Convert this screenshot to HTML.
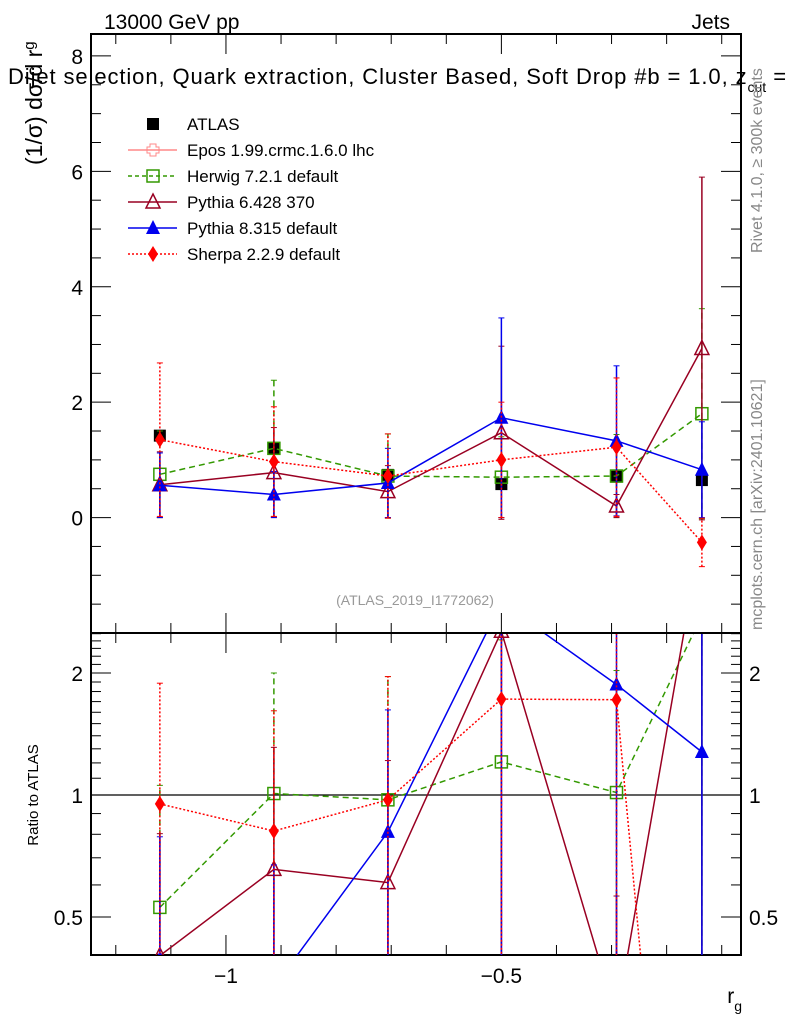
<!DOCTYPE html>
<html><head><meta charset="utf-8"><style>
html,body{margin:0;background:#fff;width:786px;height:1024px;overflow:hidden;}
svg{display:block;font-family:"Liberation Sans",sans-serif;}
</style></head><body>
<svg id="chart" width="786" height="1024" viewBox="0 0 786 1024">
<defs>
<clipPath id="clipMain"><rect x="91" y="34" width="650" height="599"/></clipPath>
<clipPath id="clipRatio"><rect x="91" y="634" width="650" height="321"/></clipPath>
</defs>
<g id="axes"></g>
<g id="marks"></g>
<text x="104" y="29" font-size="21">13000 GeV pp</text>
<text x="730" y="29" font-size="21" text-anchor="end">Jets</text>
<text x="8" y="84" font-size="22" letter-spacing="0.9">Dijet selection, Quark extraction, Cluster Based, Soft Drop #b = 1.0, z<tspan font-size="14" dy="8" letter-spacing="0">cut</tspan><tspan dy="-8"> =</tspan></text>
<text transform="translate(42,165) rotate(-90)" font-size="23">(1/σ) dσ/d r<tspan font-size="15" dy="-8">g</tspan></text>
<text transform="translate(38,795) rotate(-90)" font-size="15" text-anchor="middle">Ratio to ATLAS</text>
<text x="742" y="1003" font-size="21" text-anchor="end">r<tspan font-size="14" dy="8">g</tspan></text>
<text transform="translate(762,253) rotate(-90)" font-size="16" fill="#888">Rivet 4.1.0, ≥ 300k events</text>
<text transform="translate(762,630) rotate(-90)" font-size="16" fill="#888">mcplots.cern.ch [arXiv:2401.10621]</text>
<text x="415" y="605" font-size="14" fill="#999" text-anchor="middle">(ATLAS_2019_I1772062)</text>
<g id="legend"></g>
</svg>
<script>
const xCenters = [-1.12, -0.913, -0.706, -0.5, -0.291, -0.136];
const atlasVals = [1.42, 1.19, 0.74, 0.58, 0.71, 0.65];
const herwigVals = [0.75, 1.2, 0.72, 0.7, 0.72, 1.8];
const herwigErr = [0.75, 1.18, 0.73, 0.7, 0.72, 1.82];
const pythia6Vals = [0.57, 0.78, 0.45, 1.47, 0.2, 2.93];
const pythia6Err = [0.57, 0.78, 0.45, 1.5, 0.2, 2.97];
const pythia8Vals = [0.56, 0.4, 0.6, 1.73, 1.33, 0.83];
const pythia8Err = [0.56, 0.4, 0.6, 1.73, 1.3, 0.83];
const sherpaVals = [1.35, 0.97, 0.72, 1.0, 1.22, -0.43];
const sherpaErr = [1.33, 0.95, 0.73, 1.0, 1.2, 0.42];
const yTicks = [0, 2, 4, 6, 8];
const xTicks = [-1, -0.5];
const ratioTicks = [0.5, 1, 2];

const NS = "http://www.w3.org/2000/svg";
const X0 = 91, X1 = 741, MT = 34, MB = 633, RT = 633, RB = 955;
const xMin = -1.245, xMax = -0.065;
const sx = v => X0 + (v - xMin) / (xMax - xMin) * (X1 - X0);
const yMin = -2, yMax = 8.38;
const sy = v => MB - (v - yMin) / (yMax - yMin) * (MB - MT);
const rMin = Math.log(0.403), rMax = Math.log(2.51);
const sr = v => RB - (Math.log(Math.max(v, 0.01)) - rMin) / (rMax - rMin) * (RB - RT);

function el(tag, attrs, parent) {
  const e = document.createElementNS(NS, tag);
  for (const k in attrs) e.setAttribute(k, attrs[k]);
  parent.appendChild(e);
  return e;
}
const axes = document.getElementById('axes');
const marks = document.getElementById('marks');
const legend = document.getElementById('legend');

const f1 = el('rect', {x: X0, y: MT, width: X1 - X0, height: MB - MT, fill: 'none', stroke: '#000', 'stroke-width': 2}, axes);


const f2 = el('rect', {x: X0, y: RT, width: X1 - X0, height: RB - RT, fill: 'none', stroke: '#000', 'stroke-width': 2}, axes);



for (let v = -2; v <= 8.3; v += 0.5) {
  const major = Math.abs(v - Math.round(v / 2) * 2) < 1e-6;
  const L = major ? 20 : 10;
  el('line', {x1: X0, x2: X0 + L, y1: sy(v), y2: sy(v), stroke: '#000'}, axes);
  el('line', {x1: X1, x2: X1 - L, y1: sy(v), y2: sy(v), stroke: '#000'}, axes);
}
yTicks.forEach(v => {
  const t = el('text', {x: X0 - 8, y: sy(v) + 8, 'font-size': 21, 'text-anchor': 'end'}, axes);
  t.textContent = v;
  
  
});

for (let i = -12; i <= -1; i++) {
  const v = i / 10;
  const major = (i === -10 || i === -5);
  const L = major ? 20 : 10;
  [[MT, 1], [MB, -1], [RT, 1], [RB, -1]].forEach(([y, d]) => {
    el('line', {x1: sx(v), x2: sx(v), y1: y, y2: y + d * L, stroke: '#000'}, axes);
  });
}
xTicks.forEach(v => {
  const t = el('text', {x: sx(v), y: RB + 28, 'font-size': 21, 'text-anchor': 'middle'}, axes);
  t.textContent = String(v).replace('-', '−');
  
  
});

[0.5,0.6,0.7,0.8,0.9,1,1.1,1.2,1.3,1.4,1.5,1.6,1.7,1.8,1.9,2,2.1,2.2,2.3,2.4,2.5].forEach(v => {
  const L = ratioTicks.includes(v) ? 20 : 10;
  el('line', {x1: X0, x2: X0 + L, y1: sr(v), y2: sr(v), stroke: '#000'}, axes);
  el('line', {x1: X1, x2: X1 - L, y1: sr(v), y2: sr(v), stroke: '#000'}, axes);
});
ratioTicks.forEach(v => {
  const t = el('text', {x: X0 - 8, y: sr(v) + 8, 'font-size': 21, 'text-anchor': 'end'}, axes);
  t.textContent = v;
  
  
  const t2 = el('text', {x: X1 + 8, y: sr(v) + 8, 'font-size': 21}, axes);
  t2.textContent = v;
  
  
});
el('line', {x1: X0, x2: X1, y1: sr(1), y2: sr(1), stroke: '#000', 'stroke-width': 1.2}, axes);

function marker(g, type, x, y, color) {
  if (type === 'square') return el('rect', {x: x - 6, y: y - 6, width: 12, height: 12, fill: 'none', stroke: color, 'stroke-width': 1.5}, g);
  if (type === 'fsquare') return el('rect', {x: x - 6, y: y - 6, width: 12, height: 12, fill: color}, g);
  if (type === 'otri') return el('path', {d: `M${x},${y-8} L${x+7},${y+6} L${x-7},${y+6} Z`, fill: 'none', stroke: color, 'stroke-width': 1.5}, g);
  if (type === 'tri') return el('path', {d: `M${x},${y-8} L${x+7},${y+6} L${x-7},${y+6} Z`, fill: color}, g);
  if (type === 'diamond') return el('path', {d: `M${x},${y-8} L${x+5},${y} L${x},${y+8} L${x-5},${y} Z`, fill: color}, g);
  if (type === 'cross') return el('path', {d: `M${x-3},${y-6}h6v3h3v6h-3v3h-6v-3h-3v-6h3Z`, fill: 'none', stroke: color}, g);
}

const series = [
  {name: 'herwig', vals: herwigVals, err: herwigErr, color: '#339900', dash: '6,4', m: 'square'},
  {name: 'pythia6', vals: pythia6Vals, err: pythia6Err, color: '#990022', dash: '', m: 'otri'},
  {name: 'pythia8', vals: pythia8Vals, err: pythia8Err, color: '#0000ee', dash: '', m: 'tri'},
  {name: 'sherpa', vals: sherpaVals, err: sherpaErr, color: '#ff0000', dash: '2,2', m: 'diamond'}
];

const gA = el('g', {'clip-path': 'url(#clipMain)'}, marks);


atlasVals.forEach((v, i) => {
  const m = marker(gA, 'fsquare', sx(xCenters[i]), sy(v), '#000');
  
  
});

series.forEach(s => {
  const gm = el('g', {'clip-path': 'url(#clipMain)'}, marks);
  
  
  const gr = el('g', {'clip-path': 'url(#clipRatio)'}, marks);
  
  
  const ptsM = s.vals.map((v, i) => sx(xCenters[i]) + ',' + sy(v)).join(' ');
  const ratio = s.vals.map((v, i) => v / atlasVals[i]);
  const ptsR = ratio.map((v, i) => sx(xCenters[i]) + ',' + sr(v)).join(' ');
  const lm = el('polyline', {points: ptsM, fill: 'none', stroke: s.color, 'stroke-width': 1.5, 'stroke-dasharray': s.dash}, gm);
  
  
  const lr = el('polyline', {points: ptsR, fill: 'none', stroke: s.color, 'stroke-width': 1.5, 'stroke-dasharray': s.dash}, gr);
  
  
  s.vals.forEach((v, i) => {
    const x = sx(xCenters[i]);
    const e = s.err[i];
    el('line', {x1: x, x2: x, y1: sy(v - e), y2: sy(v + e), stroke: s.color, 'stroke-width': 1.5, 'stroke-dasharray': s.dash}, gm);
    el('line', {x1: x - 3, x2: x + 3, y1: sy(v + e), y2: sy(v + e), stroke: s.color}, gm);
    el('line', {x1: x - 3, x2: x + 3, y1: sy(v - e), y2: sy(v - e), stroke: s.color}, gm);
    const mk = marker(gm, s.m, x, sy(v), s.color);
    
    
    const r = ratio[i], re = e / atlasVals[i];
    el('line', {x1: x, x2: x, y1: sr(r - re), y2: sr(r + re), stroke: s.color, 'stroke-width': 1.5, 'stroke-dasharray': s.dash}, gr);
    el('line', {x1: x - 3, x2: x + 3, y1: sr(r + re), y2: sr(r + re), stroke: s.color}, gr);
    const mr = marker(gr, s.m, x, sr(r), s.color);
    
    
  });
});

const legendNames = ['ATLAS', 'Epos 1.99.crmc.1.6.0 lhc', 'Herwig 7.2.1 default', 'Pythia 6.428 370', 'Pythia 8.315 default', 'Sherpa 2.2.9 default'];
const legendColors = ['#000', '#ff8888', '#339900', '#990022', '#0000ee', '#ff0000'];
const legendDash = [null, '', '4,3', '', '', '2,2'];
const legendMark = ['fsquare', 'cross', 'square', 'otri', 'tri', 'diamond'];
legendNames.forEach((n, i) => {
  const y = 124 + i * 26;
  const g = el('g', {}, legend);
  
  
  if (legendDash[i] !== null) el('line', {x1: 128, x2: 177, y1: y, y2: y, stroke: legendColors[i], 'stroke-width': 1.5, 'stroke-dasharray': legendDash[i]}, g);
  marker(g, legendMark[i], 153, y, legendColors[i]);
  const t = el('text', {x: 187, y: y + 6, 'font-size': 17}, g);
  t.textContent = n;
});
</script>
</body></html>
